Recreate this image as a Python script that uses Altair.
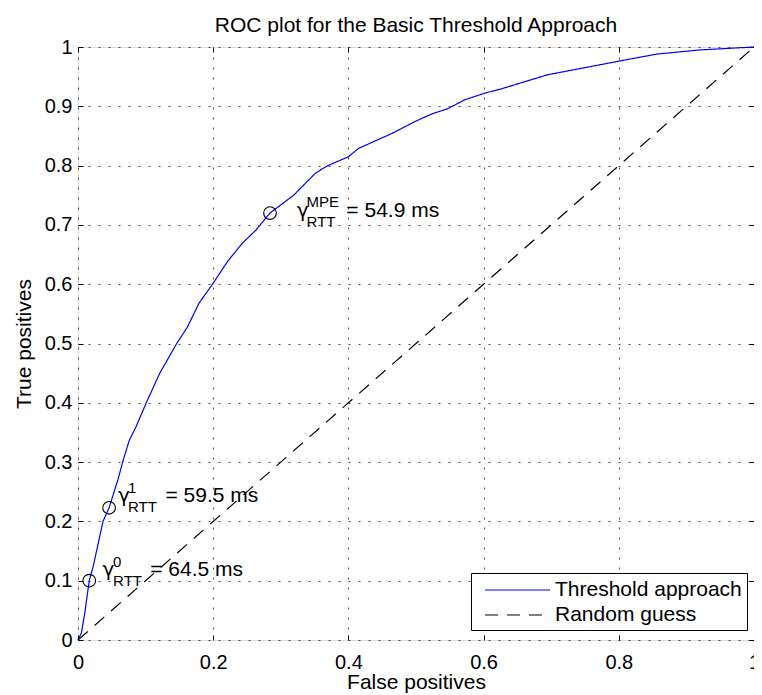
import altair as alt
import pandas as pd

FONT = "Liberation Sans"

# ROC curve
fpr = [0.0, 0.005, 0.010, 0.0166, 0.0225, 0.032, 0.037, 0.046, 0.059, 0.067, 0.076, 0.086,
       0.101, 0.121, 0.146, 0.162, 0.179, 0.199, 0.221, 0.243, 0.263, 0.284, 0.319, 0.351,
       0.368, 0.400, 0.415, 0.464, 0.498, 0.523, 0.547, 0.572, 0.604, 0.625, 0.694, 0.804,
       0.856, 0.919, 1.0]
tpr = [0.0, 0.012, 0.045, 0.100, 0.124, 0.174, 0.200, 0.223, 0.270, 0.304, 0.337, 0.360,
       0.400, 0.450, 0.500, 0.528, 0.568, 0.600, 0.638, 0.669, 0.691, 0.720, 0.750, 0.787,
       0.799, 0.815, 0.829, 0.854, 0.874, 0.887, 0.896, 0.911, 0.923, 0.929, 0.953, 0.977,
       0.988, 0.995, 1.0]
guess_x = [0.0, 1.0]
guess_y = [0.0, 1.0]
series_names = ["Threshold approach", "Random guess"]

# highlighted operating points
marker_x = [0.0166, 0.046, 0.284]
marker_y = [0.100, 0.223, 0.720]

# annotation anchors (data units)
gamma_x = [0.0363, 0.0593, 0.3235]
gamma_y = [0.1079, 0.2332, 0.7128]
sup_x = [0.0519, 0.0740, 0.3382]
sup_y = [0.1231, 0.2484, 0.7302]
sup_text = ["0", "1", "MPE"]
sub_x = [0.0519, 0.0740, 0.3382]
sub_y = [0.0911, 0.2164, 0.6965]
sub_text = ["RTT", "RTT", "RTT"]
eq_x = [0.1069, 0.1294, 0.3970]
eq_y = [0.1079, 0.2332, 0.7128]
eq_text = ["= 64.5 ms", "= 59.5 ms", "= 54.9 ms"]

x_ticks = [0, 0.2, 0.4, 0.6, 0.8, 1]
y_ticks = [0, 0.1, 0.2, 0.3, 0.4, 0.5, 0.6, 0.7, 0.8, 0.9, 1]

curve = pd.DataFrame({
    "x": fpr + guess_x,
    "y": tpr + guess_y,
    "series": [series_names[0]] * len(fpr) + [series_names[1]] * len(guess_x),
    "order": list(range(len(fpr))) + list(range(len(guess_x))),
})
markers = pd.DataFrame({"x": marker_x, "y": marker_y})
gam = pd.DataFrame({"x": gamma_x, "y": gamma_y, "t": ["γ"] * len(gamma_x)})
sup = pd.DataFrame({"x": sup_x, "y": sup_y, "t": sup_text})
sub = pd.DataFrame({"x": sub_x, "y": sub_y, "t": sub_text})
eq = pd.DataFrame({"x": eq_x, "y": eq_y, "t": eq_text})

xs = alt.Scale(domain=[0, 1], nice=False, zero=False)
ys = alt.Scale(domain=[0, 1], nice=False, zero=False)

x_main = alt.Axis(
    orient="bottom", values=x_ticks, format="~g", grid=True, gridDash=[2, 8],
    gridColor="black", gridOpacity=0.7, gridWidth=1, domain=False, ticks=True,
    tickSize=5, tickColor="black", tickWidth=1, offset=-5,
    labelFont=FONT, labelFontSize=20, labelColor="black", labelBaseline="alphabetic",
    labelPadding=28, labelFlush=False, labelOverlap=False,
    title="False positives", titleFont=FONT, titleFontSize=21, titleFontWeight="normal",
    titleColor="black", titleBaseline="alphabetic", titleY=53,
)
y_main = alt.Axis(
    orient="left", values=y_ticks, format="~g", grid=True, gridDash=[2, 8],
    gridColor="black", gridOpacity=0.7, gridWidth=1, domain=False, ticks=True,
    tickSize=5, tickColor="black", tickWidth=1, offset=-5,
    labelFont=FONT, labelFontSize=20, labelColor="black", labelPadding=6,
    labelFlush=False, labelOverlap=False,
    title="True positives", titleFont=FONT, titleFontSize=21, titleFontWeight="normal",
    titleColor="black", titleBaseline="alphabetic", titleX=-53, titleAngle=270,
)
x_top = alt.Axis(orient="top", values=x_ticks, labels=False, grid=False, domain=False,
                 ticks=True, tickSize=5, tickColor="black", offset=-5, title=None,
                 minExtent=0, labelPadding=0)
y_right = alt.Axis(orient="right", values=y_ticks, labels=False, grid=False, domain=False,
                   ticks=True, tickSize=5, tickColor="black", offset=-5, title=None,
                   minExtent=0, labelPadding=0)

legend = alt.Legend(title=None, orient="none", legendX=393, legendY=526,
                    symbolType="M-0.273,0H5.636", symbolSize=484,
                    symbolStrokeWidth=1.2, labelOffset=55,
                    labelFont=FONT, labelFontSize=21, labelColor="black",
                    labelLimit=400, padding=5, rowPadding=3,
                    strokeColor="black", fillColor="white", cornerRadius=0)

lines = alt.Chart(curve).mark_line(strokeWidth=1.2).encode(
    x=alt.X("x:Q", scale=xs, axis=x_main),
    y=alt.Y("y:Q", scale=ys, axis=y_main),
    order="order:Q",
    color=alt.Color("series:N", scale=alt.Scale(domain=series_names, range=["#0000ff", "#000000"]),
                    legend=legend),
    strokeDash=alt.StrokeDash("series:N", scale=alt.Scale(domain=series_names, range=[[1, 0], [13, 9]]),
                              legend=legend),
)

points = alt.Chart(markers).mark_point(shape="circle", filled=False, color="black",
                                       size=160, strokeWidth=1.1, opacity=1).encode(
    x=alt.X("x:Q", scale=xs, axis=x_top),
    y=alt.Y("y:Q", scale=ys, axis=y_right),
)


def text_layer(df, size, font=FONT):
    return alt.Chart(df).mark_text(align="left", baseline="alphabetic", font=font,
                                   fontSize=size, color="black").encode(
        x=alt.X("x:Q", scale=xs, axis=None),
        y=alt.Y("y:Q", scale=ys, axis=None),
        text="t:N",
    )


chart = alt.layer(
    lines, points,
    text_layer(gam, 20, "DejaVu Sans"), text_layer(sup, 15), text_layer(sub, 15), text_layer(eq, 21),
).resolve_axis(x="independent", y="independent").properties(
    width=676, height=593,
    autosize=alt.AutoSizeParams(type="none"),
    padding={"left": 70, "top": 39, "right": 0, "bottom": 55},
    title=alt.TitleParams(text="ROC plot for the Basic Threshold Approach", font=FONT,
                          fontSize=21, fontWeight="normal", color="black", anchor="middle",
                          offset=15, baseline="alphabetic", dy=31),
).configure_view(stroke="black", strokeWidth=1).configure(background="white")

chart.save("out.html", embed_options={"renderer": "svg", "actions": False})
